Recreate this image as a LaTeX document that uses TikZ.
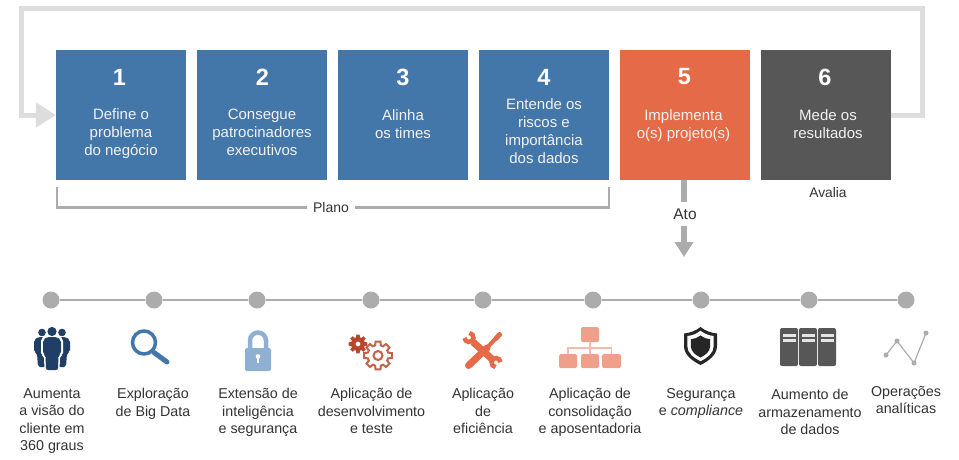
\documentclass[tikz,border=0pt]{standalone}
\usepackage{fontspec}
\setmainfont{Liberation Sans}
\usetikzlibrary{arrows.meta}
\definecolor{planblue}{RGB}{67,118,169}
\definecolor{actorange}{RGB}{229,106,72}
\definecolor{measuredark}{RGB}{87,87,87}
\definecolor{loopgray}{RGB}{221,221,221}
\definecolor{markgray}{RGB}{172,172,172}
\definecolor{labeltext}{RGB}{51,51,51}
\definecolor{peoplenavy}{RGB}{31,63,102}
\definecolor{lockblue}{RGB}{143,176,211}
\definecolor{gearred}{RGB}{184,72,45}
\definecolor{orgsalmon}{RGB}{240,160,138}
\definecolor{shielddark}{RGB}{38,38,38}
\tikzset{
    stepbox/.style={minimum size=130pt,inner sep=0pt,text=white},
    numlabel/.style={text=white,font=\fontsize{23.5}{26}\bfseries\selectfont,inner sep=0pt},
    boxtext/.style={anchor=north,align=center,inner sep=0pt,text=white!95!black,
        font=\fontsize{15}{18}\selectfont,execute at begin node=\strut},
    iconlabel/.style={anchor=north,align=center,inner sep=0pt,text=labeltext,
        font=\fontsize{14.3}{17.5}\selectfont,execute at begin node=\strut},
    looparrow/.style={draw=loopgray,line width=5pt},
    bracketline/.style={draw=markgray,line width=2.5pt},
    atoline/.style={draw=markgray,line width=6pt},
    timedot/.style={circle,fill=markgray,minimum size=17pt,inner sep=0pt},
    timeline/.style={draw=markgray,line width=2pt},
    wrenchline/.style={draw=actorange,line width=4.5pt}
}
\newcommand{\gearpath}[2]{(-16:#2) \foreach \t in {0,45,...,315}{
    -- (\t-16:#2) -- (\t-10:#1) -- (\t+10:#1) -- (\t+16:#2) -- (\t+29:#2)} -- cycle}
\newcommand{\shieldpath}{(0,-19) .. controls (-5,-15) and (-11,-13) .. (-16.5,-12.5) -- (-16.5,0)
    .. controls (-16.5,9) and (-8,15) .. (0,19) .. controls (8,15) and (16.5,9) .. (16.5,0)
    -- (16.5,-12.5) .. controls (11,-13) and (5,-15) .. (0,-19) -- cycle}
\begin{document}
\begin{tikzpicture}[x=1pt,y=-1pt]
    \useasboundingbox[fill=white] (0,0) rectangle (959,459);
    \foreach \n/\x/\c/\k in {1/121/planblue/119.5,2/262/planblue/262.5,3/403/planblue/403,4/544/planblue/544,5/685/actorange/684.5,6/826/measuredark/825}{
        \node[stepbox,fill=\c] (box\n) at (\x,115) {};
        \node[numlabel] (num\n) at (\k,77) {\n};
    }
    \node[boxtext] (text1) at (121,108.5) {Define o\\problema\\do negócio};
    \node[boxtext] (text2) at (262,109) {Consegue\\patrocinadores\\executivos};
    \node[boxtext] (text3) at (403,109) {Alinha\\os times};
    \node[boxtext] (text4) at (544,98) {Entende os\\riscos e\\importância\\dos dados};
    \node[boxtext] (text5) at (683.5,109) {Implementa\\o(s) projeto(s)};
    \node[boxtext] (text6) at (828,109) {Mede os\\resultados};

    \coordinate (loopa) at (922.5,115);
    \coordinate (loopb) at (922.5,8.5);
    \coordinate (loopc) at (21.5,8.5);
    \coordinate (loopd) at (21.5,115);
    \draw[looparrow,-{Triangle[length=20pt,width=24pt]},line join=miter]
        (box6.east) -- (loopa) -- (loopb) -- (loopc) -- (loopd) -- (box1.west);

    \node[inner sep=6pt,text=labeltext,font=\fontsize{14}{16}\selectfont] (plano) at (331,207.5) {Plano};
    \coordinate (planoa) at (57,187);
    \coordinate (planob) at (609,187);
    \draw[bracketline] (planoa) |- (plano);
    \draw[bracketline] (planob) |- (plano);

    \node[text=labeltext,font=\fontsize{15.5}{18}\selectfont,inner sep=0pt,minimum height=24pt] (ato) at (685,214) {Ato};
    \coordinate (atoend) at (684,257);
    \draw[atoline] (box5.south -| atoend) -- (atoend |- ato.north);
    \draw[atoline,-{Triangle[length=15pt,width=18pt]}] (atoend |- ato.south) -- (atoend);
    \node[text=labeltext,font=\fontsize{13.8}{16}\selectfont,inner sep=0pt] (avalia) at (828,192.5) {Avalia};

    \foreach \n/\x in {1/51,2/154,3/257,4/371,5/483,6/593,7/701,8/809,9/906}{
        \node[timedot] (dot\n) at (\x,300) {};
    }
    \foreach \p/\q in {1/2,2/3,3/4,4/5,5/6,6/7,7/8,8/9}{
        \draw[timeline] (dot\p) -- (dot\q);
    }

    \node[iconlabel] (label1) at (52,388) {Aumenta\\a visão do\\cliente em\\360 graus};
    \node[iconlabel] (label2) at (153,388) {Exploração\\de Big Data};
    \node[iconlabel] (label3) at (258,388) {Extensão de\\inteligência\\e segurança};
    \node[iconlabel] (label4) at (371.5,388) {Aplicação de\\desenvolvimento\\e teste};
    \node[iconlabel] (label5) at (483,388) {Aplicação\\de\\eficiência};
    \node[iconlabel] (label6) at (590,388) {Aplicação de\\consolidação\\e aposentadoria};
    \node[iconlabel] (label7) at (701,388) {Segurança\\e \textit{compliance}};
    \node[iconlabel] (label8) at (810,389) {Aumento de\\armazenamento\\de dados};
    \node[iconlabel] (label9) at (906,386) {Operações\\analíticas};

    % people
    \fill[peoplenavy] (42,332.5) circle (3.8) (62,332.5) circle (3.8);
    \fill[peoplenavy,rounded corners=2pt] (34,340) -- (38,337) -- (66,337) -- (70,340)
        -- (70,352) -- (67,353) -- (66,367) -- (38,367) -- (37,353) -- (34,352) -- cycle;
    \fill[white,rounded corners=2pt] (41,339) -- (46,334.5) -- (58,334.5) -- (63,339)
        -- (63,355) -- (60,356) -- (59.5,371) -- (44.5,371) -- (44,356) -- (41,355) -- cycle;
    \fill[peoplenavy] (52,331.5) circle (4.6);
    \fill[peoplenavy,rounded corners=2pt] (43,340) -- (47,337) -- (57,337) -- (61,340)
        -- (61,354) -- (58.5,355) -- (58,370) -- (46,370) -- (45.5,355) -- (43,354) -- cycle;

    % magnifier
    \draw[planblue,line width=3.5pt] (144,342.5) circle (11.5);
    \draw[planblue,line width=5pt,line cap=round] (154,352.5) -- (167,362);

    % lock
    \draw[lockblue,line width=4.5pt] (250,350) -- (250,340.5) arc[start angle=180,end angle=360,radius=8] -- (266,350);
    \fill[lockblue,rounded corners=1.5pt] (245,348) rectangle (271,371);
    \fill[white] (258,356.5) circle (2.3);
    \fill[white] (257,356.5) rectangle (259,363);

    % gears
    \fill[gearred,even odd rule,shift={(358,344)}] \gearpath{9.5}{7} (0,0) circle (2.5);
    \draw[gearred!85!white,line width=2pt,shift={(378,355.5)}] \gearpath{14}{10.5} (0,0) circle (4.5);

    % tools
    \draw[actorange,line width=7pt] (473,342) -- (492,359);
    \draw[wrenchline] ([shift={(275:4.5)}]469,337.5) arc[start angle=275,end angle=535,radius=4.5];
    \draw[wrenchline] ([shift={(95:4.5)}]496,362.5) arc[start angle=95,end angle=355,radius=4.5];
    \draw[actorange,line width=7pt,line cap=round] (468.5,365.5) -- (487,348);
    \draw[actorange,line width=4pt] (485,350) -- (497,337);
    \draw[actorange,line width=5pt,line cap=round] (496,338.5) -- (499.5,334.5);

    % org chart
    \draw[orgsalmon!70!white,line width=1.2pt] (590,342) -- (590,354) (568,354) -- (568,348) -- (611.5,348) -- (611.5,354);
    \foreach \l/\t/\r/\b in {581/327/599/342,559/354/577/368,581/354/599/368,602/354/621/368}{
        \fill[orgsalmon,rounded corners=1.5pt] (\l,\t) rectangle (\r,\b);
    }

    % shield
    \fill[shielddark,shift={(700.5,346)}] \shieldpath;
    \fill[white,shift={(700.5,346)},scale=0.8] \shieldpath;
    \fill[shielddark,shift={(700.5,346.5)},scale=0.58] \shieldpath;

    % servers
    \foreach \l in {780,799,818}{
        \fill[measuredark,rounded corners=2pt] (\l,328) rectangle ++(18,38);
        \fill[white!90!black] (\l+2.5,333.5) rectangle ++(13,3);
        \fill[white!90!black] (\l+2.5,338.5) rectangle ++(13,3);
    }

    % line chart
    \draw[markgray,line width=1.2pt] (886,355) -- (897,341) -- (914,363) -- (926,333);
    \foreach \px/\py in {886/355,897/341,914/363,926/333}{
        \fill[markgray] (\px,\py) circle (2.5);
    }
\end{tikzpicture}
\end{document}
